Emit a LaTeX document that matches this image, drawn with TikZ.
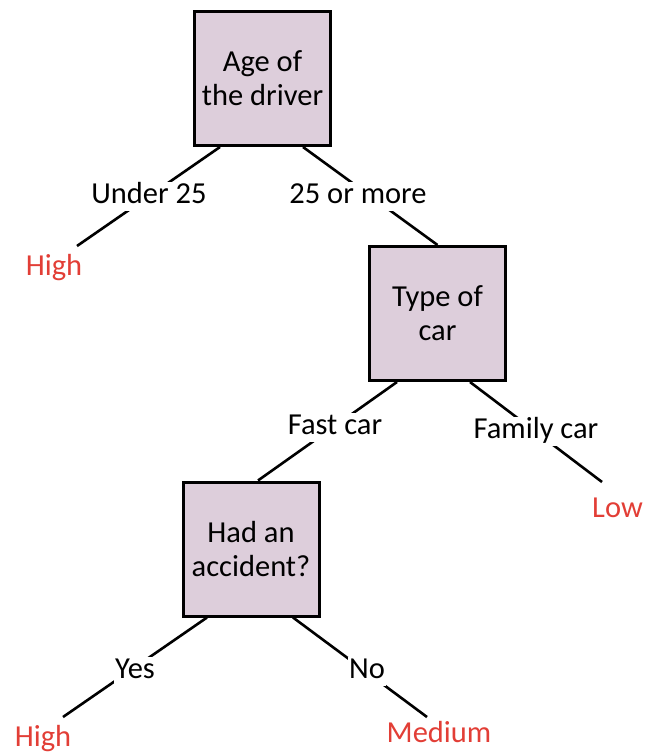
\documentclass[tikz,border=0pt]{standalone}
\usepackage{fontspec}
\setmainfont{Carlito}
\usetikzlibrary{backgrounds}
\definecolor{boxfill}{RGB}{221,206,219}
\definecolor{leafred}{RGB}{226,62,54}
\begin{document}
\begin{tikzpicture}[x=1pt,y=-1pt,
  txt/.style={font=\fontsize{30.5}{34}\selectfont},
  question/.style={txt, draw=black, line width=3pt, fill=boxfill,
    minimum width=136pt, minimum height=134pt, align=center, inner sep=0pt},
  branch/.style={txt, fill=white, anchor=base, inner xsep=1pt, inner ysep=1.5pt,
    text height=20pt, text depth=6pt},
  leaf/.style={txt, text=leafred, anchor=base, inner sep=0pt},
  edge/.style={line width=2.6pt}]
\useasboundingbox (0,0) rectangle (654,754);

% question boxes
\node[question] (age)  at (262.5,78.5) {Age of\\the driver};
\node[question] (type) at (437.5,313.5) {Type of\\car};
\node[question] (acc)  at (251,549) {Had an\\accident?};

% outcomes
\node[leaf] (high1) at (54,275) {High};
\node[leaf] (low)   at (617.5,517) {Low};
\node[leaf] (high2) at (43,746) {High};
\node[leaf] (med)   at (439,742) {Medium};

% free ends of connectors near the outcomes
\coordinate (high1end) at (77,246);
\coordinate (lowend)   at (602,482);
\coordinate (high2end) at (63,717);
\coordinate (medend)   at (427,717);

% branch labels
\node[branch] (under) at (149,203) {Under 25};
\node[branch] (over)  at (358,203) {25 or more};
\node[branch] (fast)  at (335,434) {Fast car};
\node[branch] (fam)   at (536,438) {Family car};
\node[branch] (yes)   at (135,678) {Yes};
\node[branch] (no)    at (367,678) {No};

% connectors, kept behind labels and boxes
\begin{pgfonlayer}{background}
  \draw[edge] ([xshift=-42.5pt]age.south) -- (high1end);
  \draw[edge] ([xshift=40.5pt]age.south) -- (type.north);
  \draw[edge] ([xshift=-40.5pt]type.south) -- ([xshift=7pt]acc.north);
  \draw[edge] ([xshift=32.5pt]type.south) -- (lowend);
  \draw[edge] ([xshift=-44pt]acc.south) -- (high2end);
  \draw[edge] ([xshift=42pt]acc.south) -- (medend);
\end{pgfonlayer}
\end{tikzpicture}
\end{document}
